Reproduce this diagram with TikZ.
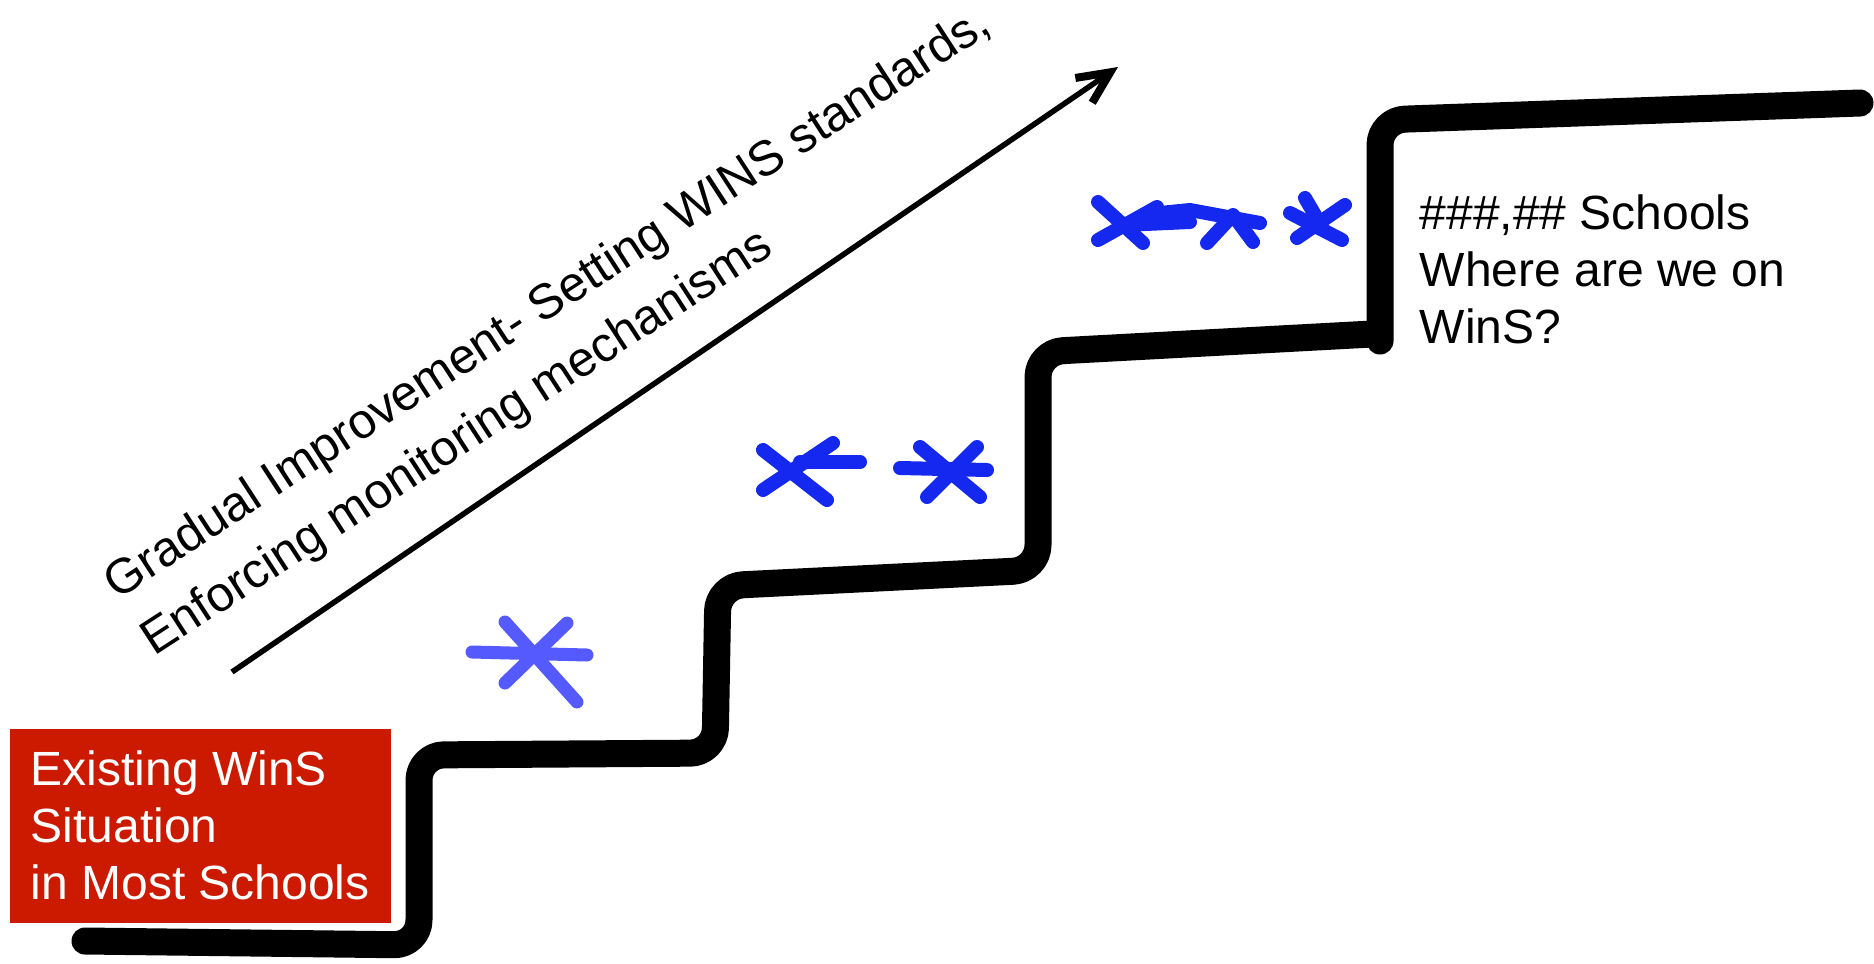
\documentclass[tikz,border=0pt]{standalone}
\usepackage{fontspec}
\setmainfont{Liberation Sans}
\usetikzlibrary{arrows.meta}
\definecolor{boxred}{RGB}{204,26,0}
\definecolor{inkblue}{RGB}{20,40,240}
\definecolor{paleblue}{RGB}{85,90,255}
\def\textsize{\fontsize{13.66}{16.2}\selectfont}
\tikzset{
	stair/.style={line width=0.27cm, line cap=round, line join=round, rounded corners=0.25cm},
	pen/.style={line width=0.14cm, line cap=round, line join=round, color=inkblue},
	palepen/.style={line width=0.13cm, line cap=round, line join=round, color=paleblue}
}

\begin{document}
\begin{tikzpicture}
			%%%%% START %%%%%
			\useasboundingbox (0, 0) rectangle (18.74, 9.63);
			
			% staircase
			\draw[stair] (0.85, 0.22) -- (4.19, 0.18) -- (4.19, 2.08) -- (7.15, 2.10) -- (7.18, 3.77) -- (10.38, 3.93) -- (10.38, 6.11) -- (13.72, 6.29);
			\draw[stair] (13.80, 6.22) -- (13.80, 8.43) -- (18.60, 8.60);
			
			% rising arrow
			\coordinate (risestart) at (2.32, 2.91);
			\coordinate (riseend) at (11.18, 8.96);
			\draw[line width=0.055cm, -{Straight Barb[length=3.2mm, width=3mm, line width=0.08cm]}] (risestart) -- (riseend);
			
			\node[anchor=north west, inner sep=0, rotate=33, align=left, font=\fontsize{14}{19.2}\selectfont] (gradual) at (0.97, 3.93) {Gradual Improvement- Setting WINS standards,\\Enforcing monitoring mechanisms};
			
			% red box
			\node[anchor=north west, fill=boxred, text=white, align=left, inner sep=0, minimum width=3.81cm, minimum height=1.94cm, font=\textsize] (existing) at (0.09, 2.35) {Existing WinS\\Situation\\in Most Schools};
			
			% top text
			\node[anchor=north west, inner sep=0, align=left, font=\textsize] (schools) at (14.19, 7.69) {\#\#\#,\#\# Schools\\Where are we on\\WinS?};
			
			% first step
			\draw[palepen] (4.72, 3.11) -- (5.87, 3.08);
			\draw[palepen] (5.05, 3.41) -- (5.77, 2.61);
			\draw[palepen] (5.67, 3.40) -- (5.05, 2.80);
			
			% second step
			\draw[pen] (8.00, 5.01) -- (8.60, 5.01);
			\draw[pen] (7.63, 5.13) -- (8.27, 4.63);
			\draw[pen] (7.63, 4.73) -- (8.33, 5.20);
			
			\draw[pen] (9.00, 4.95) -- (9.87, 4.93);
			\draw[pen] (9.20, 5.16) -- (9.80, 4.66);
			\draw[pen] (9.77, 5.16) -- (9.27, 4.66);
			
			% third step
			\draw[pen] (10.98, 7.61) -- (11.43, 7.20);
			\draw[pen] (10.98, 7.23) -- (11.57, 7.56);
			\draw[pen] (11.23, 7.38) -- (11.90, 7.41);
			\draw[pen] (11.60, 7.50) -- (11.90, 7.53) -- (12.60, 7.40);
			\draw[pen] (12.07, 7.20) -- (12.33, 7.48) -- (12.53, 7.21);
			
			\draw[pen] (12.90, 7.50) -- (13.42, 7.23);
			\draw[pen] (12.97, 7.25) -- (13.45, 7.58);
			\draw[pen] (13.05, 7.65) -- (13.15, 7.48);
			
			%%%%% END %%%%%
\end{tikzpicture}
\end{document}
